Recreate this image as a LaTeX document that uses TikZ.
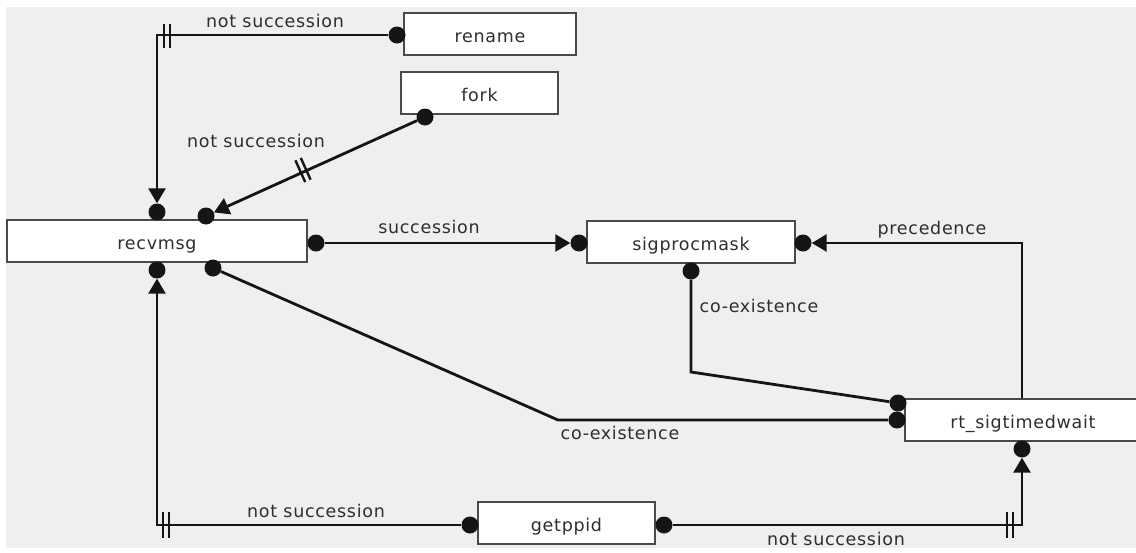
\documentclass[tikz,border=0pt]{standalone}
\usepackage{fontspec}
\setmainfont{DejaVu Sans}
\newfontfamily\labfont[LetterSpace=4]{DejaVu Sans}
\usetikzlibrary{arrows.meta}
\definecolor{bgc}{HTML}{EEEFEF}
\definecolor{linec}{HTML}{151515}
\definecolor{boxc}{HTML}{4A4A4A}
\definecolor{textc}{HTML}{2E2E2E}
\tikzset{
  box/.style={draw=boxc, line width=1.5pt, fill=white, minimum height=42pt, inner sep=0pt,
    font=\labfont\fontsize{17.5}{20}\selectfont, text=textc, text height=17pt, text depth=0pt},
  dot/.style={circle, fill=linec, inner sep=0pt, minimum size=17pt},
  conn/.style={draw=linec, line width=2.8pt},
  tri/.style={-{Triangle[length=15pt,width=17pt]}},
  bars/.style={draw=linec, line width=2.4pt},
  lab/.style={anchor=base, font=\labfont\fontsize{17.5}{20}\selectfont, text=textc, inner sep=0pt}
}
\begin{document}
\begin{tikzpicture}[x=1pt,y=-1pt]
\useasboundingbox (0,0) rectangle (1136,552);
\fill[white] (0,0) rectangle (1136,552);
\fill[bgc] (6,7) rectangle (1136,548);

% boxes
\node[box, minimum width=172pt] (rename) at (490,34) {rename};
\node[box, minimum width=157pt] (fork) at (479.5,93) {fork};
\node[box, minimum width=300pt] (recvmsg) at (157,241) {recvmsg};
\node[box, minimum width=208pt] (sigprocmask) at (691,242) {sigprocmask};
\node[box, minimum width=236pt] (rt) at (1023,420) {rt\_sigtimedwait};
\node[box, minimum width=177pt] (getppid) at (566.5,523) {getppid};

% dots
\node[dot] (renameL) at (397,35) {};
\node[dot] (forkB) at (425,117) {};
\node[dot] (recvT1) at (157,212) {};
\node[dot] (recvT2) at (206,216) {};
\node[dot] (recvR) at (316,243) {};
\node[dot] (recvB1) at (157,270) {};
\node[dot] (recvB2) at (213,268) {};
\node[dot] (sigL) at (579,243) {};
\node[dot] (sigR) at (803,243) {};
\node[dot] (sigB) at (691,271) {};
\node[dot] (rtL1) at (898,403) {};
\node[dot] (rtL2) at (897,420) {};
\node[dot] (rtB) at (1022,449) {};
\node[dot] (getL) at (470,525) {};
\node[dot] (getR) at (664,525) {};

% corners
\coordinate (c1) at (691,372);
\coordinate (c2) at (558,420);

% connectors
\draw[conn,tri] (renameL) -| (recvT1);
\draw[bars] (164,24)--(164,48) (170,24)--(170,48);

\draw[conn,tri] (forkB) -- (recvT2);
\draw[bars] (295.4,160.3)--(305.2,182.1) (300.8,157.9)--(310.6,179.7);

\draw[conn,tri] (recvR) -- (sigL);

\draw[conn,tri] (rt.north -| rtB) |- (sigR);

\draw[conn] (sigB) -- (c1) -- (rtL1);

\draw[conn] (recvB2) -- (c2) -- (rtL2);

\draw[conn,tri] (getL) -| (recvB1);
\draw[bars] (163,512)--(163,538) (169,512)--(169,538);

\draw[conn,tri] (getR) -| (rtB);
\draw[bars] (1007,512)--(1007,538) (1013,512)--(1013,538);

% labels
\node[lab] at (275,27) {not succession};
\node[lab] at (256,147) {not succession};
\node[lab] at (429,233) {succession};
\node[lab] at (932,234) {precedence};
\node[lab] at (759,312) {co-existence};
\node[lab] at (620,439) {co-existence};
\node[lab] at (316,517) {not succession};
\node[lab] at (836,545) {not succession};
\end{tikzpicture}
\end{document}
